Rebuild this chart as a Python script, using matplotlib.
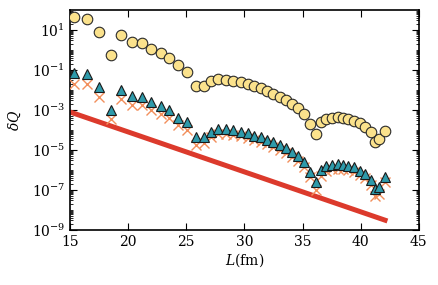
import numpy as np
import matplotlib
matplotlib.use("Agg")
import matplotlib.pyplot as plt
from matplotlib.ticker import FixedLocator, NullFormatter

plt.rcParams['font.family'] = ['DejaVu Serif']
plt.rcParams['mathtext.fontset'] = 'dejavuserif'

L = [15.3, 16.5, 17.5, 18.5, 19.4, 20.3, 21.2, 22.0, 22.8, 23.5, 24.3, 25.1,
     25.8, 26.5, 27.1, 27.75, 28.4, 29.0, 29.7, 30.3, 30.85, 31.4, 31.96, 32.5, 33.06, 33.6,
     34.1, 34.6, 35.1, 35.6, 36.15, 36.6, 37.05, 37.55, 38.05, 38.5, 38.95, 39.45, 39.95,
     40.4, 40.85, 41.2, 41.6, 42.1]

log_circles = [1.67, 1.55, 0.92, -0.25, 0.75, 0.38, 0.33, 0.05, -0.17, -0.38, -0.75, -1.08,
               -1.78, -1.78, -1.53, -1.45, -1.5, -1.55, -1.62, -1.7, -1.8, -1.92, -2.03, -2.2, -2.37, -2.52,
               -2.7, -2.92, -3.2, -3.68, -4.18, -3.62, -3.46, -3.4, -3.37, -3.4, -3.46, -3.54, -3.67,
               -3.85, -4.1, -4.62, -4.47, -4.04]

log_triangles = [-1.17, -1.22, -1.87, -3.0, -2.0, -2.3, -2.33, -2.58, -2.78, -3.0, -3.38, -3.62,
                 -4.37, -4.33, -4.08, -3.97, -3.97, -4.0, -4.08, -4.17, -4.28, -4.37, -4.5, -4.62, -4.75, -4.92,
                 -5.1, -5.3, -5.62, -6.08, -6.58, -6.0, -5.8, -5.75, -5.72, -5.75, -5.8, -5.87, -6.03,
                 -6.2, -6.5, -6.97, -6.87, -6.37]

log_crosses = [-1.7, -1.7, -2.37, -3.47, -2.45, -2.75, -2.76, -3.0, -3.18, -3.4, -3.75, -3.98,
               -4.75, -4.65, -4.35, -4.22, -4.2, -4.23, -4.3, -4.4, -4.5, -4.6, -4.72, -4.85, -4.98, -5.15,
               -5.35, -5.55, -5.85, -6.35, -7.0, -6.3, -6.03, -5.97, -5.94, -5.97, -6.02, -6.1, -6.25,
               -6.42, -6.75, -7.3, -7.2, -6.6]

L_line = [15.0, 42.3]
log_line = [-3.1, -8.55]

xticks = [15, 20, 25, 30, 35, 40, 45]
yticks_exp = [-9, -7, -5, -3, -1, 1]

fig = plt.figure(figsize=(4.39, 2.85), dpi=100)
ax = fig.add_axes([0.1595, 0.193, 0.7945, 0.772])

ax.plot(L_line, 10.0 ** np.array(log_line), color='#dc3a2c', lw=3.6, solid_capstyle='butt', zorder=2)
ax.plot(L, 10.0 ** np.array(log_crosses), ls='none', marker='x', ms=6.5, mew=1.0,
        color='#f28f5c', zorder=3)
ax.plot(L, 10.0 ** np.array(log_triangles), ls='none', marker='^', ms=7.3, mew=0.8,
        mfc='#2e9aaa', mec='#1a1a1a', zorder=4)
ax.plot(L, 10.0 ** np.array(log_circles), ls='none', marker='o', ms=7.6, mew=0.8,
        mfc='#fbe28c', mec='#2a2a2a', zorder=5)

ax.set_yscale('log')
ax.set_xlim(15, 45)
ax.set_ylim(1e-9, 1e2)
ax.set_xticks(xticks)
ax.set_xticklabels([str(t) for t in xticks])
ax.yaxis.set_major_locator(FixedLocator([10.0 ** e for e in yticks_exp]))
ax.set_yticklabels([r'$10^{%d}$' % e for e in yticks_exp])
minor = []
for e in range(-9, 2):
    for s in range(1, 10):
        v = s * 10.0 ** e
        if s == 1 and e in yticks_exp:
            continue
        if 1e-9 <= v <= 1e2:
            minor.append(v)
ax.yaxis.set_minor_locator(FixedLocator(minor))
ax.yaxis.set_minor_formatter(NullFormatter())

ax.tick_params(which='both', direction='in', top=True, right=True, labelsize=10)
ax.tick_params(which='major', length=5, width=0.8)
ax.tick_params(which='minor', length=2.5, width=0.6)
for sp in ax.spines.values():
    sp.set_linewidth(1.2)

ax.set_xlabel(r'$L(\mathrm{fm})$', fontsize=10, labelpad=2)
ax.set_ylabel(r'$\delta Q$', fontsize=10, labelpad=6)

fig.savefig('out.png', dpi=100)
